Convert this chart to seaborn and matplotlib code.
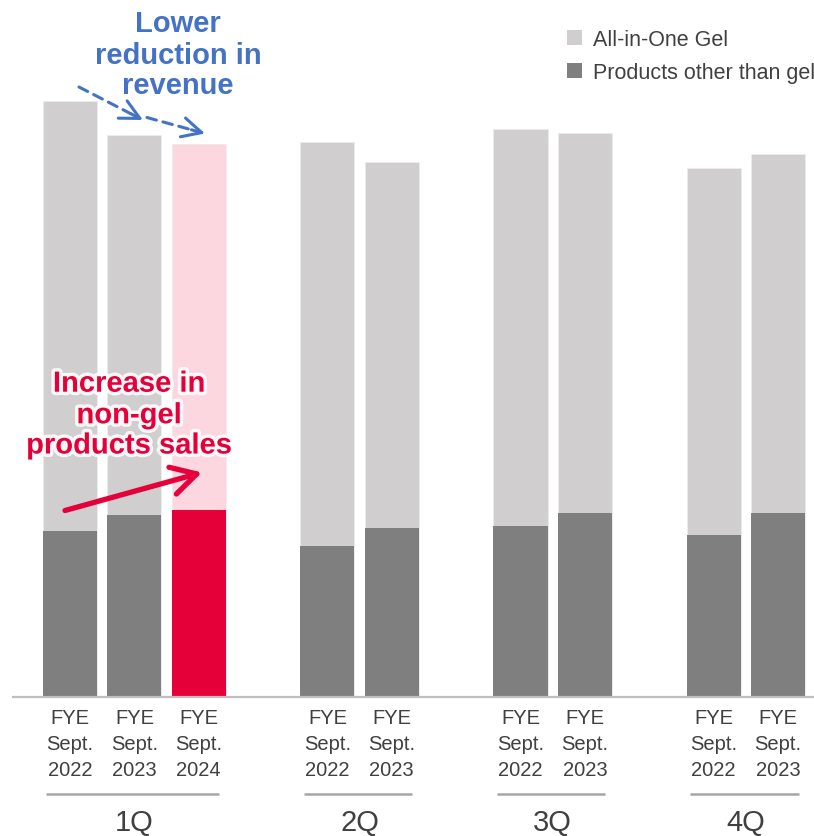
import matplotlib
matplotlib.use("Agg")
import matplotlib.pyplot as plt
import matplotlib.patheffects as pe
from matplotlib.patches import Patch
from matplotlib.transforms import blended_transform_factory
import pandas as pd
import seaborn as sns

# Quarterly revenue split, one bar per fiscal year inside each quarter
quarters = ["1Q", "2Q", "3Q", "4Q"]
bar_quarter = ["1Q", "1Q", "1Q", "2Q", "2Q", "3Q", "3Q", "4Q", "4Q"]
fiscal_years = ["2022", "2023", "2024", "2022", "2023", "2022", "2023", "2022", "2023"]
non_gel = [166, 182, 187, 151, 169, 171, 184, 162, 184]
gel = [430, 380, 366, 404, 366, 397, 380, 367, 359]
highlight = ["base", "base", "focus", "base", "base", "base", "base", "base", "base"]

legend_labels = ["All-in-One Gel", "Products other than gel"]

LIGHT = "#d0cecf"
DARK = "#7f7f7f"
PINK = "#fdd7e0"
RED = "#e6003a"
BLUE = "#4472c4"
TEXT = "#404040"

sns.set_theme(style="white")
plt.rcParams["font.family"] = ["Liberation Sans", "DejaVu Sans"]

# bar slots: consecutive within a quarter, one empty slot between quarters
positions = []
slot = 0
prev = None
for q in bar_quarter:
    if prev is not None:
        slot += 1 if q == prev else 2
    positions.append(slot)
    prev = q

df = pd.DataFrame({
    "pos": positions,
    "quarter": bar_quarter,
    "year": fiscal_years,
    "non_gel": non_gel,
    "gel": gel,
    "highlight": highlight,
})
df["total"] = df["non_gel"] + df["gel"]

W, H = 814, 837
fig = plt.figure(figsize=(W / 100, H / 100), dpi=100)
ax = fig.add_axes([13 / W, 139 / H, 801 / W, 698 / H])

bar_w = 0.84
sns.barplot(data=df, x="pos", y="total", hue="highlight",
            palette={"base": LIGHT, "focus": PINK}, native_scale=True,
            width=bar_w, dodge=False, errorbar=None, legend=False,
            saturation=1, edgecolor="#ececec", linewidth=0.6, ax=ax)
sns.barplot(data=df, x="pos", y="non_gel", hue="highlight",
            palette={"base": DARK, "focus": RED}, native_scale=True,
            width=bar_w, dodge=False, errorbar=None, legend=False,
            saturation=1, edgecolor="none", linewidth=0, ax=ax)

ax.set_xlim(-0.886, 11.56)
ax.set_ylim(0, 698)
ax.set_yticks([])
ax.set_xlabel("")
ax.set_ylabel("")
ax.set_xticks(df["pos"])
ax.set_xticklabels([f"FYE\nSept.\n{y}" for y in df["year"]],
                   fontsize=14.5, color=TEXT, linespacing=1.45)
ax.tick_params(axis="x", length=0, pad=8)
for side in ["top", "left", "right"]:
    ax.spines[side].set_visible(False)
ax.spines["bottom"].set_color("#bfbfbf")
ax.spines["bottom"].set_linewidth(1.6)


def fy(py):
    """figure fraction from a pixel row measured from the top"""
    return 1 - py / H


def fx(px):
    return px / W


# quarter brackets and labels under the tick labels
tr = blended_transform_factory(ax.transData, fig.transFigure)
for q in quarters:
    sub = df[df["quarter"] == q]
    x0, x1 = sub["pos"].min() - 0.37, sub["pos"].max() + 0.32
    ax.plot([x0, x1], [fy(795), fy(795)], transform=tr, color="#a6a6a6",
            lw=1.8, clip_on=False, solid_capstyle="butt")
    ax.text((sub["pos"].min() + sub["pos"].max()) / 2, fy(831), q,
            transform=tr, ha="center", va="baseline", fontsize=21, color=TEXT)

# legend
handles = [Patch(facecolor=LIGHT, edgecolor="none"), Patch(facecolor=DARK, edgecolor="none")]
leg = fig.legend(handles, legend_labels, loc="upper left",
                 bbox_to_anchor=(fx(567), fy(30)), frameon=False, fontsize=15.5,
                 handlelength=0.7, handleheight=0.7, handletextpad=0.5,
                 labelspacing=0.55, borderpad=0, borderaxespad=0)
for t in leg.get_texts():
    t.set_color(TEXT)

# callout: revenue
for line, base in zip(["Lower", "reduction in", "revenue"], [32, 64, 94.5]):
    fig.text(fx(178), fy(base), line, ha="center", va="baseline",
             fontsize=21, fontweight="bold", color=BLUE)


def arrow(p0, p1, color, lw, style, ls="-", scale=20):
    ax.annotate("", xy=(fx(p1[0]), fy(p1[1])), xytext=(fx(p0[0]), fy(p0[1])),
                xycoords="figure fraction", textcoords="figure fraction",
                arrowprops=dict(arrowstyle=style, color=color, lw=lw,
                                linestyle=ls, mutation_scale=scale,
                                shrinkA=0, shrinkB=0),
                annotation_clip=False)


for tail, tip in [((79, 88), (143, 121)), ((147, 118.5), (205, 134.5))]:
    dx, dy = tip[0] - tail[0], tip[1] - tail[1]
    n = (dx ** 2 + dy ** 2) ** 0.5
    near = (tip[0] - dx / n * 14, tip[1] - dy / n * 14)
    arrow(tail, near, BLUE, 2.2, "-", ls=(0, (3.2, 2.2)))
    arrow(near, tip, BLUE, 2.2, "->,head_length=0.7,head_width=0.35")

# callout: non-gel products
glow = [pe.withStroke(linewidth=5, foreground="white", alpha=0.85)]
for line, base in zip(["Increase in", "non-gel", "products sales"], [392.7, 424.3, 454.5]):
    fig.text(fx(129), fy(base), line, ha="center", va="baseline",
             fontsize=21, fontweight="bold", color=RED, path_effects=glow)

arrow((65, 511.5), (202, 473.5), RED, 3.8, "->,head_length=0.9,head_width=0.5")

fig.savefig("out.png", dpi=100)
